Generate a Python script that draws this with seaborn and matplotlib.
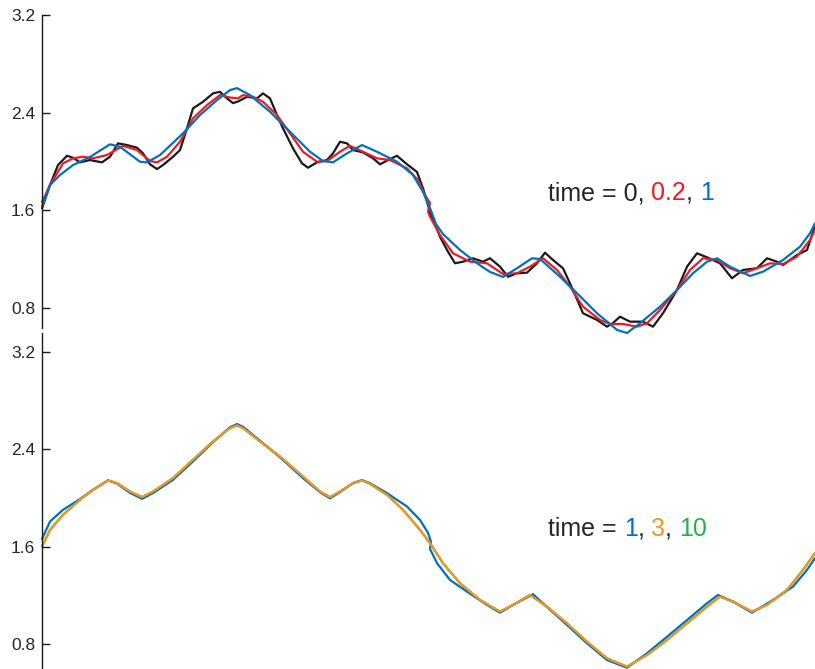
import matplotlib
matplotlib.use("Agg")
import matplotlib.pyplot as plt
import pandas as pd
import seaborn as sns

# ---- solution snapshots, upper panel (t = 0, 0.2, 1) ----
x_t0 = [0, 0.064, 0.128, 0.2, 0.248, 0.304, 0.384, 0.48, 0.544, 0.608, 0.68, 0.76, 0.808,
        0.864, 0.92, 0.968, 1.048, 1.104, 1.16, 1.208, 1.288, 1.368, 1.424, 1.48, 1.528,
        1.568, 1.64, 1.72, 1.768, 1.824, 1.88, 1.928, 2.008, 2.08, 2.128, 2.2, 2.28, 2.328,
        2.384, 2.44, 2.488, 2.568, 2.648, 2.704, 2.768, 2.84, 2.92, 3.0, 3.048, 3.08, 3.104,
        3.184, 3.24, 3.304, 3.368, 3.448, 3.528, 3.584, 3.664, 3.728, 3.8, 3.88, 3.96, 4.024,
        4.088, 4.168, 4.248, 4.328, 4.44, 4.52, 4.568, 4.624, 4.704, 4.808, 4.888, 4.968,
        5.08, 5.16, 5.24, 5.32, 5.424, 5.52, 5.608, 5.72, 5.8, 5.88, 5.928, 6.04, 6.12,
        6.168, 6.184]
u_t0 = [1.614, 1.805, 1.969, 2.045, 2.029, 1.991, 2.01, 1.991, 2.037, 2.147, 2.133, 2.111,
        2.065, 1.975, 1.936, 1.969, 2.037, 2.092, 2.27, 2.434, 2.488, 2.557, 2.57, 2.516,
        2.477, 2.49, 2.529, 2.516, 2.557, 2.516, 2.379, 2.27, 2.106, 1.983, 1.947, 1.991,
        2.01, 2.065, 2.16, 2.147, 2.092, 2.073, 2.024, 1.975, 2.01, 2.045, 1.975, 1.912,
        1.778, 1.668, 1.584, 1.381, 1.272, 1.163, 1.176, 1.204, 1.176, 1.204, 1.135, 1.053,
        1.081, 1.086, 1.163, 1.25, 1.19, 1.122, 0.944, 0.753, 0.698, 0.643, 0.673, 0.725,
        0.684, 0.684, 0.643, 0.753, 0.944, 1.135, 1.245, 1.212, 1.163, 1.04, 1.108, 1.122,
        1.204, 1.176, 1.149, 1.231, 1.272, 1.42, 1.463]

x_t02 = [0, 0.064, 0.168, 0.248, 0.328, 0.408, 0.52, 0.648, 0.76, 0.864, 0.92, 1.0, 1.104,
         1.208, 1.32, 1.424, 1.504, 1.568, 1.608, 1.688, 1.768, 1.88, 1.984, 2.088, 2.2,
         2.28, 2.384, 2.464, 2.568, 2.68, 2.784, 2.92, 3.008, 3.064, 3.104, 3.088, 3.104,
         3.184, 3.288, 3.424, 3.56, 3.688, 3.8, 3.904, 4.008, 4.12, 4.224, 4.328, 4.464,
         4.544, 4.648, 4.76, 4.84, 4.944, 5.08, 5.184, 5.288, 5.4, 5.504, 5.608, 5.72,
         5.824, 5.928, 6.04, 6.144, 6.184]
u_t02 = [1.666, 1.805, 1.983, 2.024, 2.037, 2.024, 2.051, 2.127, 2.092, 2.002, 1.991, 2.037,
         2.16, 2.352, 2.461, 2.543, 2.523, 2.516, 2.543, 2.529, 2.488, 2.379, 2.229, 2.078,
         1.996, 2.002, 2.078, 2.127, 2.078, 2.024, 2.01, 1.942, 1.846, 1.723, 1.657, 1.586,
         1.545, 1.395, 1.245, 1.176, 1.163, 1.075, 1.081, 1.135, 1.204, 1.108, 0.971,
         0.807, 0.698, 0.665, 0.665, 0.643, 0.671, 0.78, 0.944, 1.108, 1.204, 1.19, 1.122,
         1.081, 1.122, 1.163, 1.157, 1.217, 1.354, 1.436]

x_t1a = [0, 0.064, 0.144, 0.248, 0.384, 0.544, 0.624, 0.784, 0.84, 0.944, 1.128, 1.264, 1.4,
         1.504, 1.56, 1.664, 1.824, 1.984, 2.144, 2.248, 2.328, 2.44, 2.56, 2.68, 2.84,
         2.968, 3.048, 3.104, 3.152, 3.208, 3.344, 3.48, 3.584, 3.688, 3.8, 3.92, 3.984,
         4.144, 4.28, 4.44, 4.544, 4.6, 4.68, 4.784, 4.944, 5.08, 5.208, 5.32, 5.4, 5.504,
         5.664, 5.768, 5.928, 6.064, 6.144, 6.184]
u_t1a = [1.627, 1.805, 1.887, 1.969, 2.035, 2.139, 2.119, 1.996, 1.991, 2.051, 2.229, 2.379,
         2.502, 2.584, 2.6, 2.543, 2.406, 2.242, 2.078, 2.002, 1.991, 2.065, 2.133, 2.078,
         1.996, 1.887, 1.748, 1.616, 1.485, 1.403, 1.272, 1.163, 1.092, 1.051, 1.122, 1.204,
         1.198, 1.053, 0.917, 0.753, 0.665, 0.616, 0.591, 0.671, 0.807, 0.944, 1.081, 1.176,
         1.204, 1.135, 1.059, 1.094, 1.19, 1.299, 1.409, 1.491]

# ---- solution snapshots, lower panel (t = 1, 3, 10) ----
x_t1b = [0, 0.064, 0.168, 0.304, 0.408, 0.528, 0.6, 0.704, 0.8, 0.888, 1.048, 1.208, 1.368,
         1.504, 1.56, 1.608, 1.744, 1.904, 2.088, 2.224, 2.304, 2.384, 2.488, 2.56, 2.624,
         2.76, 2.92, 3.024, 3.088, 3.112, 3.104, 3.16, 3.264, 3.4, 3.56, 3.664, 3.768, 3.928,
         4.04, 4.2, 4.36, 4.52, 4.68, 4.84, 5.0, 5.16, 5.32, 5.408, 5.528, 5.68, 5.848,
         6.008, 6.12, 6.184]
u_t1b = [1.663, 1.806, 1.902, 1.99, 2.066, 2.144, 2.117, 2.041, 1.992, 2.039, 2.148, 2.299,
         2.457, 2.58, 2.606, 2.584, 2.469, 2.333, 2.162, 2.046, 1.996, 2.047, 2.121, 2.146,
         2.12, 2.039, 1.929, 1.819, 1.713, 1.639, 1.581, 1.464, 1.326, 1.23, 1.121, 1.057,
         1.121, 1.209, 1.104, 0.956, 0.806, 0.669, 0.605, 0.724, 0.86, 0.997, 1.135, 1.203,
         1.148, 1.057, 1.162, 1.271, 1.408, 1.505]

x_t3 = [0, 0.064, 0.168, 0.304, 0.408, 0.528, 0.6, 0.704, 0.8, 0.888, 1.048, 1.208, 1.368,
        1.504, 1.56, 1.608, 1.744, 1.904, 2.088, 2.224, 2.304, 2.384, 2.488, 2.56, 2.624,
        2.76, 2.888, 3.024, 3.104, 3.208, 3.344, 3.504, 3.664, 3.768, 3.904, 4.04, 4.2,
        4.36, 4.52, 4.68, 4.84, 5.0, 5.16, 5.32, 5.424, 5.528, 5.68, 5.8, 5.96, 6.088, 6.184]
u_t3 = [1.6, 1.737, 1.861, 1.984, 2.066, 2.143, 2.121, 2.052, 2.006, 2.052, 2.162, 2.313,
        2.463, 2.573, 2.595, 2.573, 2.463, 2.34, 2.175, 2.052, 2.006, 2.052, 2.121, 2.143,
        2.115, 2.025, 1.902, 1.737, 1.628, 1.464, 1.299, 1.162, 1.066, 1.121, 1.203, 1.107,
        0.97, 0.819, 0.683, 0.614, 0.71, 0.833, 0.97, 1.107, 1.189, 1.148, 1.066, 1.121,
        1.244, 1.408, 1.546]

# by t = 10 the profile has settled onto the t = 3 state
x_t10 = x_t3
u_t10 = u_t3

yticks = [0.8, 1.6, 2.4, 3.2]

black = "#1a1a1a"
red = "#ed1c24"
blue = "#0072bd"
orange = "#f7941d"
green = "#22b14c"
text_gray = "#262626"

sns.set_style("white")
plt.rcParams["font.family"] = ["Liberation Sans", "DejaVu Sans"]

W, H = 815, 669
fig = plt.figure(figsize=(W / 100, H / 100), dpi=100)
ax_top = fig.add_axes([42 / W, 1 - 328 / H, 1 - 42 / W, (328 - 15) / H])
ax_bot = fig.add_axes([42 / W, 0, 1 - 42 / W, 1 - 333.3 / H])

xmax = 6.184
ax_top.set_ylim(0.632, 3.2)
ax_bot.set_ylim(0.595, 3.351)


def draw(ax, xs, us, color):
    df = pd.DataFrame({"x": xs, "u": us})
    sns.lineplot(data=df, x="x", y="u", ax=ax, color=color, linewidth=1.6,
                 sort=False, estimator=None, clip_on=False,
                 solid_joinstyle="round", solid_capstyle="round")


draw(ax_top, x_t0, u_t0, black)
draw(ax_top, x_t02, u_t02, red)
draw(ax_top, x_t1a, u_t1a, blue)

draw(ax_bot, x_t10, u_t10, green)
draw(ax_bot, x_t1b, u_t1b, blue)
draw(ax_bot, x_t3, u_t3, orange)

for ax in (ax_top, ax_bot):
    ax.set_xlim(0, xmax)
    ax.set_facecolor("none")
    ax.set_yticks(yticks)
    ax.set_yticklabels([f"{v:.1f}" for v in yticks])
    ax.set_xticks([])
    ax.set_xlabel("")
    ax.set_ylabel("")
    for side in ("top", "right", "bottom"):
        ax.spines[side].set_visible(False)
    ax.spines["left"].set_color(black)
    ax.spines["left"].set_linewidth(1.0)
    ax.tick_params(axis="y", direction="in", length=6, width=1.0, color=black,
                   labelsize=12.5, labelcolor=text_gray, pad=5, left=True)


# multi-coloured annotation rows, each piece anchored to the end of the previous one
def colored_line(ax, x, y, pieces, size=18):
    t = ax.annotate(pieces[0][0], xy=(x, y), xycoords="figure pixels",
                    color=pieces[0][1], fontsize=size, va="baseline", ha="left")
    for s, c in pieces[1:]:
        t = ax.annotate(s, xy=(1, 0), xycoords=t, color=c, fontsize=size,
                        va="bottom", ha="left", annotation_clip=False)


colored_line(ax_top, 548, H - 200,
             [("time = 0, ", text_gray), ("0.2", red), (", ", text_gray), ("1", blue)])
colored_line(ax_bot, 548, H - 536,
             [("time = ", text_gray), ("1", blue), (", ", text_gray), ("3", orange),
              (", ", text_gray), ("10", green)])

fig.savefig("out.png", dpi=100)
